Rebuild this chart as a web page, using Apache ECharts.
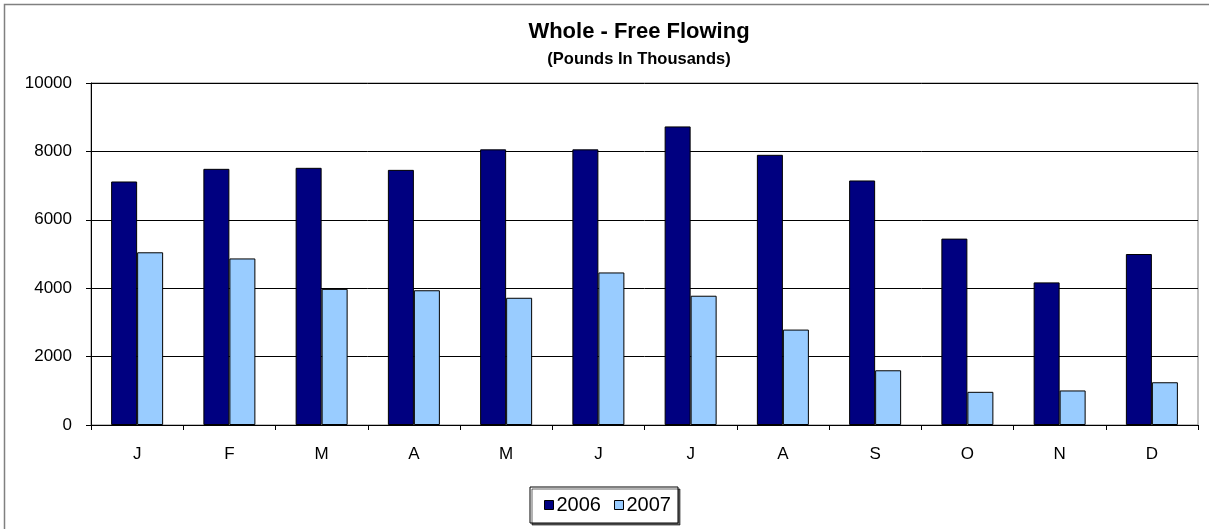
<!DOCTYPE html>
<html>
<head>
<meta charset="utf-8">
<script src="https://cdn.jsdelivr.net/npm/echarts@6/dist/echarts.min.js"></script>
<style>html,body{margin:0;padding:0;background:#fff;}#c{width:1209px;height:529px;}</style>
</head>
<body>
<div id="c"></div>
<script>
const categories = ['J','F','M','A','M','J','J','A','S','O','N','D'];
const series2006 = [7120, 7490, 7520, 7460, 8060, 8060, 8730, 7900, 7150, 5450, 4170, 5000];
const series2007 = [5050, 4870, 3980, 3940, 3720, 4460, 3780, 2790, 1600, 970, 1010, 1250];
const yTicks = {min: 0, max: 10000, interval: 2000};

const chart = echarts.init(document.getElementById('c'));
const font = 'Arial, "Liberation Sans", sans-serif';
chart.setOption({
  animation: false,
  backgroundColor: '#fff',
  graphic: [{
    type: 'rect', silent: true, z: -1,
    shape: {x: 4.5, y: 4.5, width: 1230, height: 550},
    style: {fill: 'none', stroke: '#808080', lineWidth: 1.5}
  }],
  title: {
    text: 'Whole - Free Flowing',
    subtext: '(Pounds In Thousands)',
    left: 639,
    textAlign: 'center',
    top: 21,
    padding: 0,
    itemGap: 8,
    textStyle: {fontFamily: font, fontSize: 22, fontWeight: 'bold', color: '#000'},
    subtextStyle: {fontFamily: font, fontSize: 16.5, fontWeight: 'bold', color: '#000'}
  },
  legend: {
    left: 530, top: 487,
    padding: [8, 7, 8, 14],
    itemGap: 13,
    itemWidth: 9, itemHeight: 9,
    icon: 'rect',
    borderColor: '#000', borderWidth: 1,
    backgroundColor: '#fff',
    shadowColor: 'rgba(0,0,0,0.6)', shadowOffsetX: 2, shadowOffsetY: 2, shadowBlur: 0,
    textStyle: {fontFamily: font, fontSize: 20, color: '#000', padding: [0,0,0,-2]},
    itemStyle: {borderColor: '#000', borderWidth: 1},
    data: ['2006', '2007']
  },
  grid: {
    left: 91, right: 11, top: 83, bottom: 104,
    show: true, borderColor: '#808080', borderWidth: 1
  },
  xAxis: {
    type: 'category',
    data: categories,
    axisLine: {lineStyle: {color: '#000', width: 1}},
    axisTick: {show: true, length: 5, lineStyle: {color: '#000'}},
    axisLabel: {fontFamily: font, fontSize: 17, color: '#000', margin: 21},
    splitLine: {show: false}
  },
  yAxis: {
    type: 'value',
    min: yTicks.min, max: yTicks.max, interval: yTicks.interval,
    axisLine: {show: true, lineStyle: {color: '#000', width: 1}},
    axisTick: {show: true, length: 5, lineStyle: {color: '#000'}},
    axisLabel: {fontFamily: font, fontSize: 17, color: '#000', margin: 19, formatter: v => String(v)},
    splitLine: {show: true, lineStyle: {color: '#000', width: 1}}
  },
  series: [
    {name: '2006', type: 'bar', data: series2006, barWidth: 26, barGap: '0%',
     itemStyle: {color: '#000080', borderColor: '#000', borderWidth: 1}},
    {name: '2007', type: 'bar', data: series2007, barWidth: 26, barGap: '0%',
     itemStyle: {color: '#99CCFF', borderColor: '#000', borderWidth: 1}}
  ]
});
</script>
</body>
</html>
